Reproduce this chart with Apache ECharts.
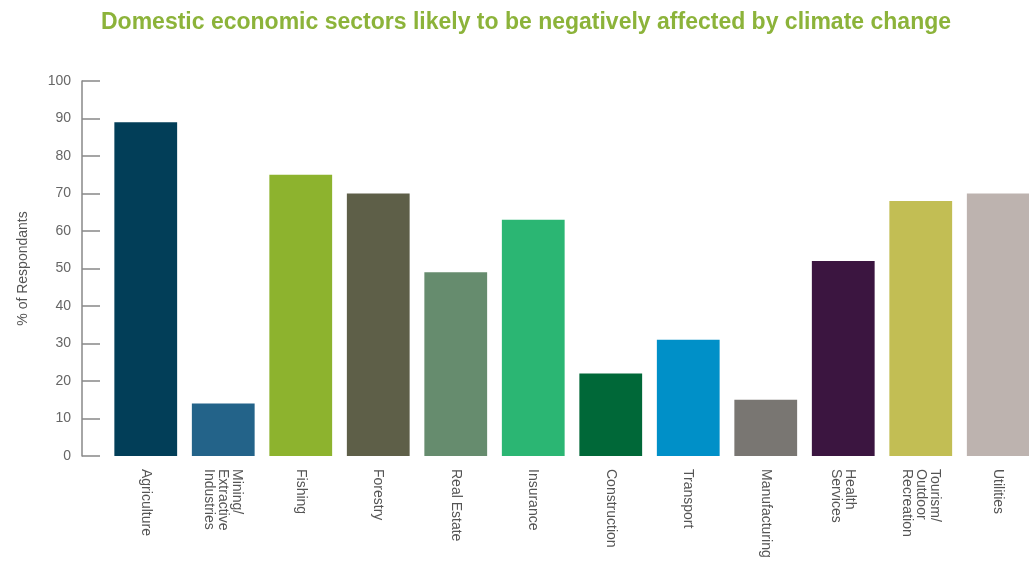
<!DOCTYPE html>
<html><head><meta charset="utf-8">
<script src="https://cdn.jsdelivr.net/npm/echarts@6/dist/echarts.min.js"></script>
<style>html,body{margin:0;padding:0;background:#fff}#c{width:1029px;height:573px}</style>
</head><body><div id="c"></div>
<script>
const categories = ["Agriculture","Mining/\nExtractive\nIndustries","Fishing","Forestry","Real Estate","Insurance","Construction","Transport","Manufacturing","Health\nServices","Tourism/\nOutdoor\nRecreation","Utilities"];
const values = [89,14,75,70,49,63,22,31,15,52,68,70];
const colors = ["#023E58","#236389","#8DB32E","#5E5F48","#668C6E","#2BB673","#006838","#0090C8","#797672","#3B1540","#C2BE54","#BDB3AF"];
const yTicks = {min:0,max:100,interval:10};

const chart = echarts.init(document.getElementById('c'));
chart.setOption({
  animation:false,
  title:{text:"Domestic economic sectors likely to be negatively affected by climate change",left:521,textAlign:'center',top:6,
    textStyle:{color:"#8CB33A",fontSize:23,fontWeight:'bold',fontFamily:'Liberation Sans, Arial'}},
  grid:{left:107,width:930,top:81,bottom:117,outerBoundsMode:'none',containLabel:false},
  xAxis:{type:'category',data:categories,
    axisLine:{show:false},axisTick:{show:false},
    axisLabel:{rotate:-90,interval:0,color:'#555',fontSize:14,lineHeight:14,margin:13,fontFamily:'Liberation Sans, Arial'}},
  yAxis:{type:'value',min:yTicks.min,max:yTicks.max,interval:yTicks.interval,offset:25,
    name:'% of Respondants',nameLocation:'middle',nameGap:52,nameRotate:90,
    nameTextStyle:{color:'#555',fontSize:14,fontFamily:'Liberation Sans, Arial'},
    axisLine:{show:true,lineStyle:{color:'#888',width:1.5}},
    axisTick:{show:true,inside:true,length:18,lineStyle:{color:'#888',width:1.5}},
    axisLabel:{color:'#666',fontSize:14,margin:11,fontFamily:'Liberation Sans, Arial'},
    splitLine:{show:false}},
  series:[{type:'bar',data:values.map((v,i)=>({value:v,itemStyle:{color:colors[i]}})),barCategoryGap:'19%'}]
});
</script></body></html>
